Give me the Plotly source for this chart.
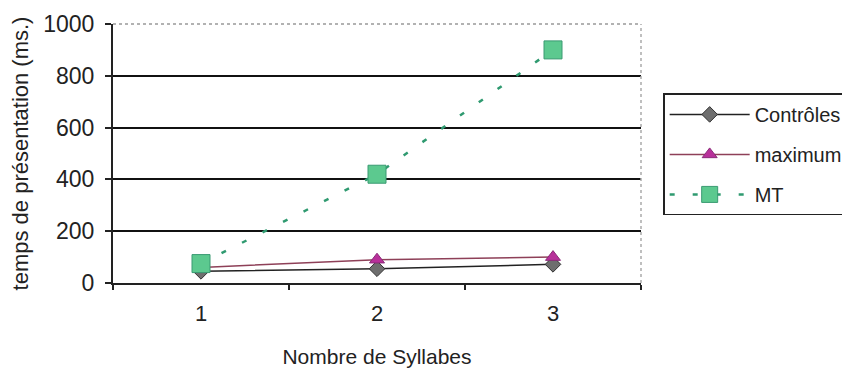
import plotly.graph_objects as go

categories = ["1", "2", "3"]
controles = [45, 55, 72]
maximum = [60, 90, 100]
mt = [75, 420, 900]
y_ticks = [0, 200, 400, 600, 800, 1000]
grid_vals = [200, 400, 600, 800]

FONT = "Liberation Sans, Arial, sans-serif"

fig = go.Figure()
fig.add_trace(go.Scatter(
    x=categories, y=controles, name="Contrôles", mode="lines+markers", legendgroup="a",
    line=dict(color="#222222", width=1.5),
    marker=dict(symbol="diamond", size=12, color="#6e6e6e", line=dict(color="#333333", width=1)),
))
fig.add_trace(go.Scatter(
    x=categories, y=maximum, name="maximum", mode="lines+markers", legendgroup="b",
    line=dict(color="#8e4058", width=1.5),
    marker=dict(symbol="triangle-up", size=13, color="#b8309a", line=dict(color="#8a2a78", width=1)),
))
fig.add_trace(go.Scatter(
    x=categories, y=mt, name="MT", mode="lines+markers", legendgroup="c",
    line=dict(color="#2f9a70", width=2.5, dash="5px,18px"),
    marker=dict(symbol="square", size=18, color="#5cc98f", line=dict(color="#3a9a72", width=1)),
))

fig.update_layout(
    width=850, height=369,
    margin=dict(l=105, r=217, t=16, b=94, autoexpand=False),
    paper_bgcolor="white", plot_bgcolor="white",
    font=dict(family=FONT, size=22, color="#222222"),
    showlegend=True,
    legend=dict(
        x=1.042, y=0.732, xanchor="left", yanchor="top",
        bordercolor="#222222", borderwidth=1.5, bgcolor="white",
        font=dict(family=FONT, size=20, color="#222222"),
        itemwidth=80, tracegroupgap=11,
    ),
    shapes=[
        dict(type="line", xref="paper", yref="paper", x0=0, x1=1, y0=1, y1=1,
             line=dict(color="#999999", width=1.5, dash="dot")),
        dict(type="line", xref="paper", yref="paper", x0=1, x1=1, y0=0, y1=1,
             line=dict(color="#aaaaaa", width=1.5, dash="dot")),
    ],
)

fig.update_xaxes(
    type="category", range=[-0.5, 2.5],
    showline=True, linecolor="#222222", linewidth=2,
    ticks="outside", ticklen=5, tickcolor="#222222", tickwidth=2,
    ticklabelstandoff=10,
    tickson="boundaries", showgrid=False, zeroline=False,
    tickfont=dict(size=22),
    title=dict(text="Nombre de Syllabes", font=dict(size=21), standoff=24),
)
fig.update_yaxes(
    range=[0, 1000], tickvals=y_ticks,
    showline=True, linecolor="#222222", linewidth=2,
    ticks="outside", ticklen=6, tickcolor="#222222", tickwidth=2,
    ticklabelstandoff=6,
    showgrid=False, zeroline=False,
    minor=dict(tickvals=grid_vals, showgrid=True, gridcolor="#111111", gridwidth=2),
    tickfont=dict(size=23),
    title=dict(text="temps de présentation (ms.)", font=dict(size=22), standoff=10),
)

fig.write_html("out.html")
